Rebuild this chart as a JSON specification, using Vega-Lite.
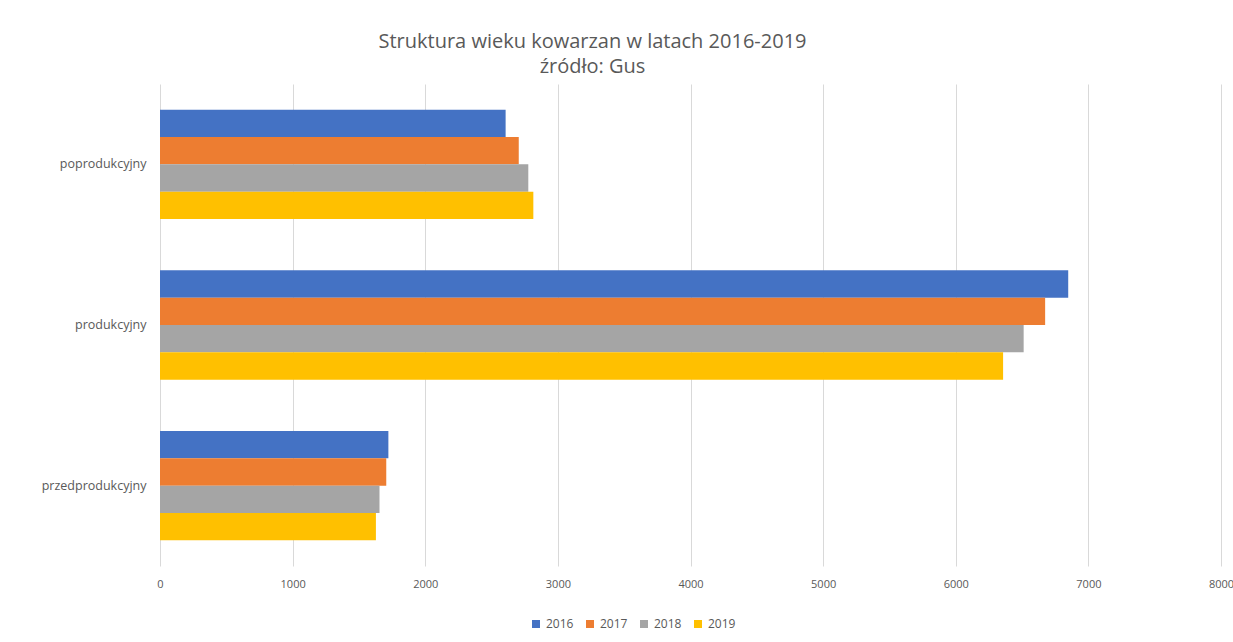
{
  "$schema": "https://vega.github.io/schema/vega-lite/v6.json",
  "autosize": {"type": "none"},
  "width": 1061,
  "height": 482,
  "padding": {"left": 160, "top": 84, "right": 12, "bottom": 76},
  "background": "white",
  "title": {
    "text": ["Struktura wieku kowarzan w latach 2016-2019", "źródło: Gus"],
    "font": "Open Sans",
    "fontSize": 20,
    "fontWeight": "normal",
    "color": "#595959",
    "lineHeight": 25,
    "anchor": "middle",
    "dx": -98,
    "offset": 7
  },
  "data": {
    "values": [
      {"kategoria": "poprodukcyjny", "rok": "2016", "wartosc": 2606},
      {"kategoria": "poprodukcyjny", "rok": "2017", "wartosc": 2705},
      {"kategoria": "poprodukcyjny", "rok": "2018", "wartosc": 2777},
      {"kategoria": "poprodukcyjny", "rok": "2019", "wartosc": 2815},
      {"kategoria": "produkcyjny", "rok": "2016", "wartosc": 6848},
      {"kategoria": "produkcyjny", "rok": "2017", "wartosc": 6674},
      {"kategoria": "produkcyjny", "rok": "2018", "wartosc": 6512},
      {"kategoria": "produkcyjny", "rok": "2019", "wartosc": 6357},
      {"kategoria": "przedprodukcyjny", "rok": "2016", "wartosc": 1722},
      {"kategoria": "przedprodukcyjny", "rok": "2017", "wartosc": 1706},
      {"kategoria": "przedprodukcyjny", "rok": "2018", "wartosc": 1655},
      {"kategoria": "przedprodukcyjny", "rok": "2019", "wartosc": 1628}
    ]
  },
  "mark": {"type": "bar"},
  "encoding": {
    "y": {
      "field": "kategoria",
      "type": "nominal",
      "sort": ["poprodukcyjny", "produkcyjny", "przedprodukcyjny"],
      "scale": {"paddingInner": 0.32, "paddingOuter": 0.16},
      "axis": {
        "title": null,
        "domain": false,
        "ticks": false,
        "labelPadding": 14,
        "labelFont": "Open Sans",
        "labelFontSize": 12.5,
        "labelColor": "#595959"
      }
    },
    "yOffset": {
      "field": "rok",
      "type": "nominal",
      "sort": ["2016", "2017", "2018", "2019"],
      "scale": {"paddingInner": 0, "paddingOuter": 0}
    },
    "x": {
      "field": "wartosc",
      "type": "quantitative",
      "scale": {"domain": [0, 8000], "nice": false},
      "axis": {
        "title": null,
        "values": [0, 1000, 2000, 3000, 4000, 5000, 6000, 7000, 8000],
        "format": "d",
        "domain": false,
        "ticks": false,
        "grid": true,
        "gridColor": "#d9d9d9",
        "labelPadding": 12,
        "labelFont": "Open Sans",
        "labelFontSize": 11,
        "labelColor": "#595959",
        "labelFlush": false
      }
    },
    "color": {
      "field": "rok",
      "type": "nominal",
      "scale": {
        "domain": ["2016", "2017", "2018", "2019"],
        "range": ["#4472C4", "#ED7D31", "#A5A5A5", "#FFC000"]
      },
      "legend": {
        "title": null,
        "orient": "none",
        "direction": "horizontal",
        "legendX": 370,
        "legendY": 534,
        "symbolType": "square",
        "symbolSize": 64,
        "symbolStrokeWidth": 0,
        "labelFont": "Open Sans",
        "labelFontSize": 12,
        "labelColor": "#595959",
        "columnPadding": 10,
        "labelOffset": 4
      }
    }
  },
  "config": {
    "view": {"stroke": null}
  }
}
